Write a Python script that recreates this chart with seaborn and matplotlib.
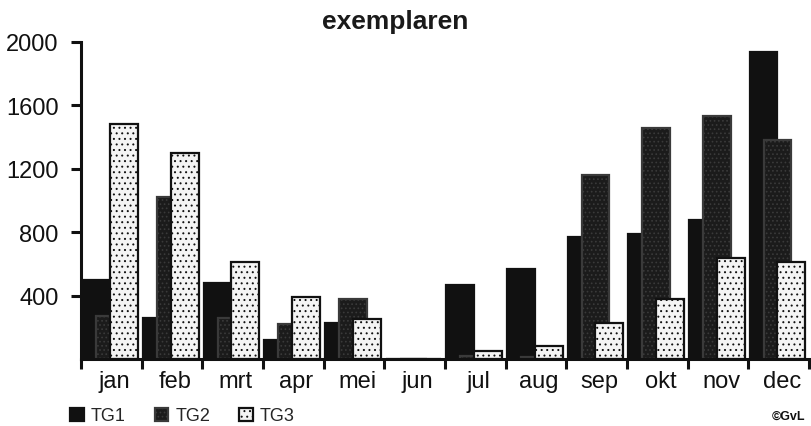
import numpy as np
import matplotlib.pyplot as plt
import seaborn as sns

months = ["jan", "feb", "mrt", "apr", "mei", "jun",
          "jul", "aug", "sep", "okt", "nov", "dec"]
tg1 = [500, 260, 480, 120, 230, 0, 470, 570, 770, 790, 880, 1940]
tg2 = [270, 1020, 260, 220, 380, 0, 20, 15, 1160, 1460, 1530, 1380]
tg3 = [1480, 1300, 610, 390, 250, 0, 50, 80, 230, 380, 640, 610]
y_ticks = [400, 800, 1200, 1600, 2000]

sns.set_style("ticks")
plt.rcParams["font.family"] = ["Liberation Sans", "DejaVu Sans"]
plt.rcParams["hatch.linewidth"] = 0.7

fig = plt.figure(figsize=(8.11, 4.27), dpi=100)
ax = fig.add_axes([81 / 811, 1 - 360 / 427, (809 - 81) / 811, (360 - 43) / 427])

pos = np.arange(len(months))

# overlapping bars, later series drawn on top
series = [
    ("TG1", tg1, 0.25, dict(color="#111111", edgecolor="#111111")),
    ("TG2", tg2, 0.48, dict(color="#1b1b1b", edgecolor="#3a3a3a", hatch="....")),
    ("TG3", tg3, 0.71, dict(color="#f4f4f4", edgecolor="#111111", hatch="...")),
]
for name, vals, off, style in series:
    sns.barplot(
        x=pos + off, y=vals, native_scale=True, width=0.46,
        saturation=1, errorbar=None, linewidth=1.6,
        label=name, ax=ax, **style
    )

handles, labels = ax.get_legend_handles_labels()
if ax.get_legend() is not None:
    ax.get_legend().remove()

ax.set_xlim(0, 12)
ax.set_ylim(0, 2000)
ax.set_xlabel("")
ax.set_ylabel("")

# boundary tick marks, month labels in between
ax.set_xticks(np.arange(13))
ax.set_xticklabels([])
ax.set_xticks(pos + 0.55, minor=True)
ax.set_xticklabels(months, minor=True, fontsize=17)
ax.tick_params(axis="x", which="major", direction="out", length=7, width=2.2, color="#111111")
ax.tick_params(axis="x", which="minor", length=0, pad=8, labelcolor="#111111")

ax.set_yticks(y_ticks)
ax.set_yticklabels([str(v) for v in y_ticks], fontsize=17)
ax.tick_params(axis="y", direction="out", length=7, width=2.2, pad=9,
               color="#111111", labelcolor="#111111")

sns.despine(ax=ax)
for side in ["left", "bottom"]:
    ax.spines[side].set_linewidth(2.2)
    ax.spines[side].set_color("#111111")

fig.text(395 / 811, 1 - 22 / 427, "exemplaren", ha="center", va="center",
         fontsize=19, fontweight="bold", color="#1a1a1a")

fig.legend(handles, labels, loc="center left", bbox_to_anchor=(70 / 811, 1 - 417 / 427),
           ncol=3, frameon=False, fontsize=13, handlelength=0.75, handleheight=0.75,
           handletextpad=0.4, columnspacing=1.6, borderpad=0, borderaxespad=0)

fig.text(805 / 811, 1 - 417 / 427, "©GvL", ha="right", va="center",
         fontsize=9, fontweight="bold", color="#111111")

fig.savefig("out.png", dpi=100)
